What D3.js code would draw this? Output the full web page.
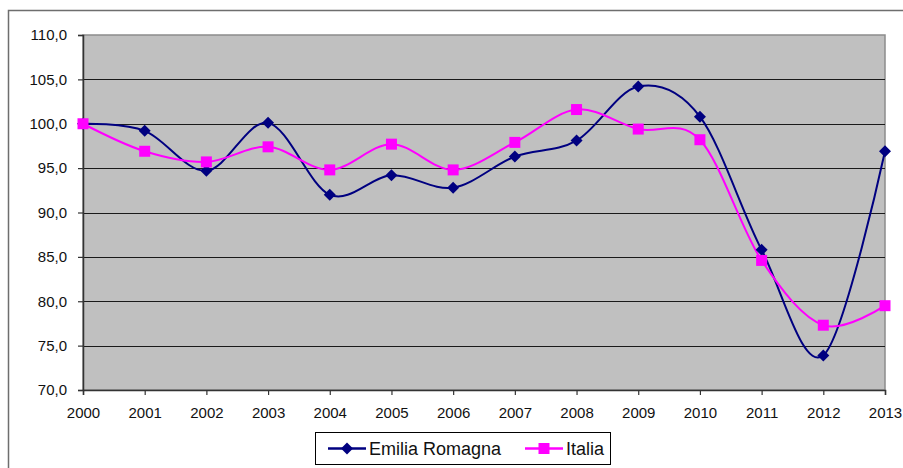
<!DOCTYPE html>
<html>
<head>
<meta charset="utf-8">
<script src="https://cdn.jsdelivr.net/npm/d3@7"></script>
<style>
  html, body { margin: 0; padding: 0; background: #ffffff; }
  svg { display: block; font-family: "Liberation Sans", Arial, sans-serif; }
</style>
</head>
<body>
<svg id="chart" width="903" height="468"></svg>
<script>
// Index values, 2000 = 100
const years = [2000, 2001, 2002, 2003, 2004, 2005, 2006, 2007, 2008, 2009, 2010, 2011, 2012, 2013];
const emiliaRomagna = [100.0, 99.2, 94.7, 100.1, 92.0, 94.2, 92.8, 96.3, 98.1, 104.2, 100.8, 85.8, 73.9, 96.9];
const italia = [100.0, 96.9, 95.7, 97.4, 94.8, 97.7, 94.8, 97.9, 101.6, 99.4, 98.2, 84.6, 77.3, 79.5];
const yTicks = [70, 75, 80, 85, 90, 95, 100, 105, 110];
const seriesNames = ["Emilia Romagna", "Italia"];

const svg = d3.select("#chart");
const plot = { left: 83, top: 35, right: 885, bottom: 390 };

const x = d3.scaleLinear().domain([2000, 2013]).range([plot.left, plot.right]);
const y = d3.scaleLinear().domain([70, 110]).range([plot.bottom, plot.top]);
const fmt = v => d3.format(".1f")(v).replace(".", ",");

// outer chart frame (partially cropped on right and bottom)
svg.append("path")
  .attr("d", "M8.5,470 V10.5 H905")
  .attr("fill", "none").attr("stroke", "#6e6e6e").attr("stroke-width", 1.5);

// plot background
svg.append("rect")
  .attr("x", plot.left).attr("y", plot.top)
  .attr("width", plot.right - plot.left).attr("height", plot.bottom - plot.top)
  .attr("fill", "#c0c0c0").attr("stroke", "#8c8c8c").attr("stroke-width", 1.5);

// horizontal gridlines
svg.append("g").selectAll("line")
  .data(yTicks.filter(v => v > 70 && v < 110))
  .join("line")
  .attr("x1", plot.left).attr("x2", plot.right)
  .attr("y1", d => Math.round(y(d)) + 0.5).attr("y2", d => Math.round(y(d)) + 0.5)
  .attr("stroke", "#1a1a1a").attr("stroke-width", 1.2);

// y axis
const yAxis = svg.append("g")
  .attr("transform", `translate(${plot.left},0)`)
  .call(d3.axisLeft(y).tickValues(yTicks).tickFormat(fmt).tickSize(5).tickPadding(11));
yAxis.select(".domain").attr("stroke", "#333").attr("stroke-width", 1.5);
yAxis.selectAll(".tick line").attr("stroke", "#333").attr("stroke-width", 1.2);
yAxis.selectAll("text").attr("font-size", 15).attr("fill", "#111")
  .attr("font-family", "Liberation Sans, Arial, sans-serif");

// x axis
const xAxis = svg.append("g")
  .attr("transform", `translate(0,${plot.bottom})`)
  .call(d3.axisBottom(x).tickValues(years).tickFormat(d3.format("d")).tickSize(5).tickPadding(12));
xAxis.select(".domain").attr("stroke", "#333").attr("stroke-width", 1.5);
xAxis.selectAll(".tick line").attr("stroke", "#333").attr("stroke-width", 1.2);
xAxis.selectAll("text").attr("font-size", 15).attr("fill", "#111")
  .attr("font-family", "Liberation Sans, Arial, sans-serif");

const line = d3.line()
  .x((d, i) => x(years[i]))
  .y(d => y(d))
  .curve(d3.curveCatmullRom.alpha(0));

const diamond = d3.symbol().type(d3.symbolDiamond2 || d3.symbolDiamond).size(60)();
const diamondPath = "M0,-6L6,0L0,6L-6,0Z";
const squarePath = "M-5.5,-5.5H5.5V5.5H-5.5Z";

// Emilia Romagna series
svg.append("path").datum(emiliaRomagna)
  .attr("d", line).attr("fill", "none")
  .attr("stroke", "#000080").attr("stroke-width", 2);

// Italia series
svg.append("path").datum(italia)
  .attr("d", line).attr("fill", "none")
  .attr("stroke", "#ff00ff").attr("stroke-width", 2);

svg.append("g").selectAll("path")
  .data(emiliaRomagna)
  .join("path")
  .attr("d", diamondPath)
  .attr("transform", (d, i) => `translate(${x(years[i])},${y(d)})`)
  .attr("fill", "#000080");

svg.append("g").selectAll("path")
  .data(italia)
  .join("path")
  .attr("d", squarePath)
  .attr("transform", (d, i) => `translate(${x(years[i])},${y(d)})`)
  .attr("fill", "#ff00ff");

// legend
const legend = svg.append("g");
legend.append("rect")
  .attr("x", 315.5).attr("y", 432.5).attr("width", 295).attr("height", 32)
  .attr("fill", "#ffffff").attr("stroke", "#000").attr("stroke-width", 1);

const legendItems = [
  { name: seriesNames[0], color: "#000080", marker: diamondPath, x0: 328 },
  { name: seriesNames[1], color: "#ff00ff", marker: squarePath, x0: 525 }
];
legendItems.forEach(it => {
  const g = legend.append("g").attr("transform", `translate(${it.x0},448.5)`);
  g.append("line").attr("x1", 0).attr("x2", 38).attr("y1", 0).attr("y2", 0)
    .attr("stroke", it.color).attr("stroke-width", 2.5);
  g.append("path").attr("d", it.marker).attr("transform", "translate(19,0)").attr("fill", it.color);
  g.append("text").attr("x", 41).attr("y", 0).attr("dy", "0.36em")
    .attr("font-size", 18).attr("fill", "#111").text(it.name);
});
</script>
</body>
</html>
